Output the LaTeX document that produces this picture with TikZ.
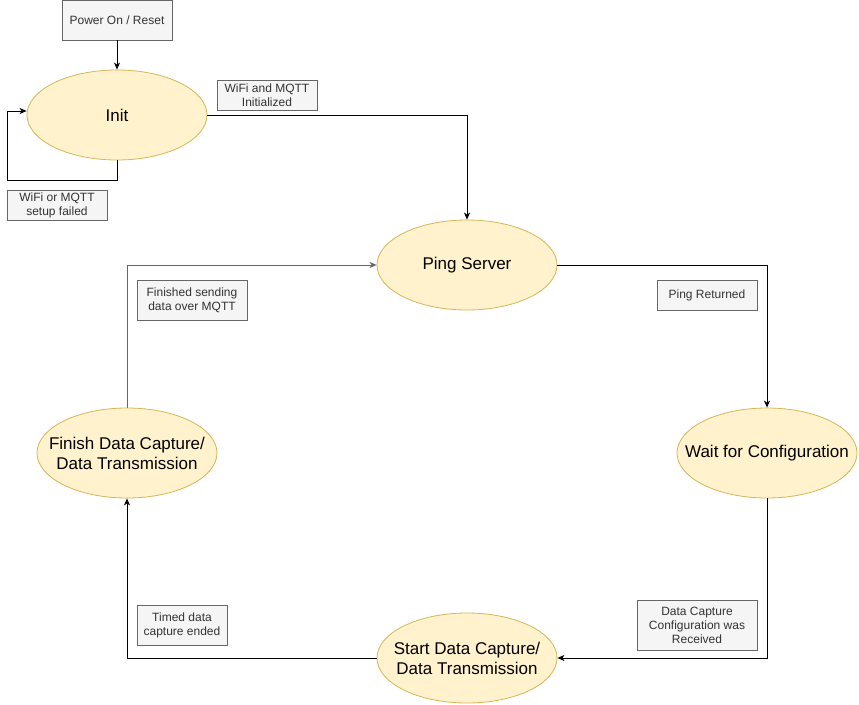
\documentclass[tikz,border=0pt]{standalone}
\usepackage{fontspec}
\setmainfont{Liberation Sans}
\usetikzlibrary{shapes.geometric,arrows.meta}
\definecolor{lblfill}{HTML}{F5F5F5}
\definecolor{lbldraw}{HTML}{666666}
\definecolor{lbltext}{HTML}{333333}
\definecolor{stfill}{HTML}{FFF2CC}
\definecolor{stdraw}{HTML}{D6B656}
\tikzset{
  lbl/.style={draw=lbldraw, fill=lblfill, text=lbltext, rectangle, inner sep=0pt,
    align=center, font=\fontsize{12}{14}\selectfont, line width=0.8pt},
  state/.style={ellipse, draw=stdraw, fill=stfill, minimum width=180pt, minimum height=90pt,
    inner sep=0pt, line width=0.8pt},
  statetxt/.style={align=center, font=\fontsize{17}{20}\selectfont, inner sep=0pt, text=black},
  arr/.style={draw=black, line width=0.9pt, -{Stealth[length=7pt,width=6pt,inset=2pt]}},
  garr/.style={arr, draw=lbldraw, -{Stealth[length=7pt,width=6pt,inset=2pt,fill=lbldraw]}}
}
\begin{document}
\begin{tikzpicture}[x=1pt,y=-1pt]
\useasboundingbox (0,0) rectangle (859,704);
% states
\node[lbl, minimum width=110pt, minimum height=40pt] (power) at (117,20) {Power On / Reset};
\node[state, label={[statetxt]center:Init}] (init) at (117,115) {};
\node[state, label={[statetxt]center:Ping Server}] (ping) at (467,265) {};
\node[state, label={[statetxt]center:Wait for Configuration}] (wait) at (767,453) {};
\node[state, label={[statetxt]center:Start Data Capture/\\Data Transmission}] (start) at (467,658) {};
\node[state, label={[statetxt]center:Finish Data Capture/\\Data Transmission}] (finish) at (127,453) {};
% labels
\node[lbl, minimum width=100pt, minimum height=30pt] (l1) at (57,205) {WiFi or MQTT\\setup failed};
\node[lbl, minimum width=100pt, minimum height=30pt] (l2) at (267,95) {WiFi and MQTT\\Initialized};
\node[lbl, minimum width=100pt, minimum height=30pt] (l3) at (707,295) {Ping Returned};
\node[lbl, minimum width=120pt, minimum height=50pt] (l4) at (697,625) {Data Capture\\Configuration was\\Received};
\node[lbl, minimum width=90pt, minimum height=40pt] (l5) at (182,625) {Timed data\\capture ended};
\node[lbl, minimum width=110pt, minimum height=40pt] (l6) at (192,300) {Finished sending\\data over MQTT};
% connectors
\coordinate (loopA) at (7,180);
\coordinate (loopB) at (7,111);
\draw[arr] (power.south) -- (init.north);
\draw[arr] (init.south) |- (loopA) -- (loopB) -- (init.west |- loopB);
\draw[arr] (init.east) -| (ping.north);
\draw[arr] (ping.east) -| (wait.north);
\draw[arr] (wait.south) |- (start.east);
\draw[arr] (start.west) -| (finish.south);
\draw[garr] (finish.north) |- (ping.west);
\end{tikzpicture}
\end{document}
